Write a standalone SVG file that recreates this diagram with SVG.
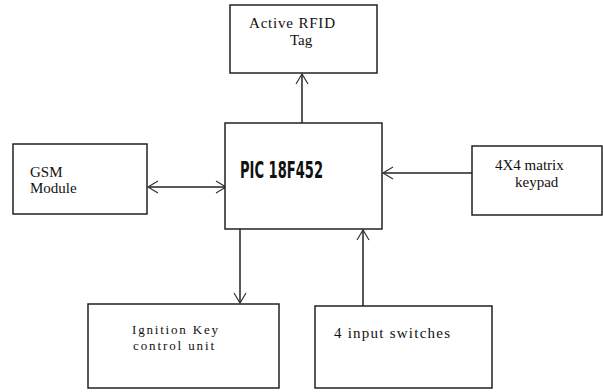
<svg xmlns="http://www.w3.org/2000/svg" width="603" height="392" viewBox="0 0 603 392">
<style>
.box{fill:#fff;stroke:#222;stroke-width:1.5}
.t{font-family:"Liberation Serif","Times New Roman",serif;font-size:15px;fill:#111}
.s{font-size:13px}
.pic{font-family:"Liberation Sans Narrow","DejaVu Sans Condensed","Liberation Sans",sans-serif;font-weight:bold;font-size:23px;fill:#111}
.c{stroke:#222;stroke-width:1.5;fill:none}
</style>
<defs>
<marker id="ah" markerWidth="14" markerHeight="14" refX="12" refY="7" orient="auto-start-reverse" markerUnits="userSpaceOnUse">
<path d="M2,1 L12,7 L2,13" fill="none" stroke="#333" stroke-width="1.2"/>
</marker>
</defs>
<rect width="603" height="392" fill="#fff"/>
<g id="connectors">
<line class="c" x1="302" y1="123" x2="302" y2="74" marker-end="url(#ah)"/>
<line class="c" x1="148" y1="187" x2="226" y2="187" marker-start="url(#ah)" marker-end="url(#ah)"/>
<line class="c" x1="472" y1="173" x2="383" y2="173" marker-end="url(#ah)"/>
<line class="c" x1="240" y1="229" x2="240" y2="303" marker-end="url(#ah)"/>
<line class="c" x1="363" y1="306" x2="363" y2="230" marker-end="url(#ah)"/>
</g>
<g id="rfid">
<rect class="box" x="230" y="5" width="147" height="68"/>
<text class="t" x="249" y="28" textLength="86">Active RFID</text>
<text class="t" x="290" y="45">Tag</text>
</g>
<g id="pic">
<rect class="box" x="225" y="123" width="157" height="106"/>
<text class="pic" x="240" y="178" textLength="83" lengthAdjust="spacingAndGlyphs">PIC 18F452</text>
</g>
<g id="gsm">
<rect class="box" x="13" y="144" width="134" height="70"/>
<text class="t" x="30" y="177">GSM</text>
<text class="t" x="30" y="193">Module</text>
</g>
<g id="keypad">
<rect class="box" x="472" y="146" width="130" height="69"/>
<text class="t" x="495" y="170">4X4 matrix</text>
<text class="t" x="515" y="187">keypad</text>
</g>
<g id="ignition">
<rect class="box" x="88" y="304" width="191" height="84"/>
<text class="t s" x="132" y="334" textLength="86">Ignition Key</text>
<text class="t s" x="133" y="350" textLength="81">control unit</text>
</g>
<g id="switches">
<rect class="box" x="315" y="306" width="177" height="82"/>
<text class="t" x="334" y="338" textLength="116">4 input switches</text>
</g>
</svg>
